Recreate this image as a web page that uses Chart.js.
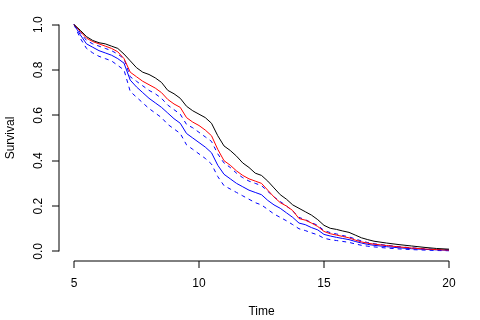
<!DOCTYPE html>
<html>
<head>
<meta charset="utf-8">
<script src="https://cdn.jsdelivr.net/npm/chart.js@4"></script>
<style>
  html, body { margin: 0; padding: 0; background: #fff; }
  canvas { display: block; }
</style>
</head>
<body>
<canvas id="chart-surv" width="480" height="320"></canvas>
<script>
// tiempos y curvas
const tiempos = [5, 5.25, 5.5, 5.75, 6, 6.25, 6.5, 6.75, 7, 7.25, 7.5, 7.75, 8, 8.25, 8.5, 8.75,
    9, 9.25, 9.5, 9.75, 10, 10.25, 10.5, 10.75, 11, 11.25, 11.5, 11.75, 12, 12.25, 12.5, 12.75,
    13, 13.25, 13.5, 13.75, 14, 14.25, 14.5, 14.75, 15, 15.25, 15.5, 15.75, 16, 16.25, 16.5, 16.75,
    17, 17.5, 18, 18.5, 19, 19.5, 20];

const survNegro = [1, 0.975, 0.947, 0.93, 0.92, 0.915, 0.905, 0.895, 0.87, 0.84, 0.81, 0.79, 0.78, 0.765, 0.745, 0.71,
    0.695, 0.675, 0.64, 0.62, 0.605, 0.59, 0.565, 0.51, 0.465, 0.445, 0.42, 0.39, 0.37, 0.345, 0.335, 0.31,
    0.28, 0.25, 0.23, 0.205, 0.19, 0.175, 0.16, 0.14, 0.115, 0.102, 0.097, 0.09, 0.084, 0.072, 0.06, 0.052,
    0.045, 0.037, 0.03, 0.024, 0.018, 0.013, 0.01];

const survRojo = [1, 0.97, 0.94, 0.925, 0.915, 0.905, 0.895, 0.88, 0.85, 0.79, 0.77, 0.75, 0.735, 0.72, 0.7, 0.67,
    0.65, 0.635, 0.59, 0.57, 0.555, 0.535, 0.51, 0.45, 0.4, 0.38, 0.355, 0.335, 0.32, 0.31, 0.3, 0.27,
    0.24, 0.215, 0.2, 0.18, 0.145, 0.138, 0.125, 0.11, 0.088, 0.078, 0.072, 0.066, 0.06, 0.05, 0.042, 0.036,
    0.032, 0.026, 0.02, 0.015, 0.011, 0.008, 0.006];

const survAzul = [1, 0.955, 0.915, 0.9, 0.885, 0.875, 0.865, 0.85, 0.83, 0.755, 0.725, 0.7, 0.675, 0.655, 0.635, 0.61,
    0.585, 0.565, 0.52, 0.5, 0.48, 0.46, 0.435, 0.38, 0.34, 0.32, 0.3, 0.285, 0.27, 0.26, 0.25, 0.225,
    0.205, 0.19, 0.17, 0.15, 0.125, 0.118, 0.105, 0.095, 0.075, 0.068, 0.062, 0.057, 0.052, 0.044, 0.037, 0.031,
    0.027, 0.021, 0.016, 0.012, 0.009, 0.007, 0.005];

const azulSup = [1, 0.965, 0.93, 0.915, 0.905, 0.895, 0.885, 0.87, 0.85, 0.77, 0.75, 0.73, 0.71, 0.695, 0.675, 0.645,
    0.625, 0.605, 0.56, 0.545, 0.525, 0.505, 0.485, 0.43, 0.39, 0.37, 0.345, 0.325, 0.31, 0.3, 0.29, 0.265,
    0.24, 0.22, 0.2, 0.178, 0.15, 0.14, 0.127, 0.115, 0.092, 0.083, 0.077, 0.07, 0.064, 0.055, 0.046, 0.039,
    0.034, 0.027, 0.021, 0.016, 0.012, 0.009, 0.007];

const azulInf = [1, 0.94, 0.895, 0.875, 0.86, 0.85, 0.84, 0.82, 0.8, 0.705, 0.68, 0.655, 0.63, 0.61, 0.59, 0.56,
    0.54, 0.52, 0.47, 0.45, 0.43, 0.41, 0.385, 0.33, 0.29, 0.275, 0.26, 0.245, 0.23, 0.215, 0.205, 0.185,
    0.165, 0.15, 0.135, 0.118, 0.1, 0.092, 0.082, 0.073, 0.058, 0.052, 0.048, 0.044, 0.04, 0.033, 0.027, 0.023,
    0.02, 0.015, 0.011, 0.008, 0.006, 0.004, 0.003];

const ticksX = [5, 10, 15, 20];
const ticksY = [0, 0.2, 0.4, 0.6, 0.8, 1];
const etiquetasY = ["0.0", "0.2", "0.4", "0.6", "0.8", "1.0"];

function serie(valores) {
    return tiempos.map((t, i) => ({ x: t, y: valores[i] }));
}

function linea(valores, color, dash) {
    return {
        data: serie(valores),
        borderColor: color,
        borderWidth: 1,
        borderDash: dash || [],
        pointRadius: 0,
        tension: 0,
        fill: false
    };
}

const FUENTE = '12px "Liberation Sans", Arial, sans-serif';

// ejes al estilo R (separados del area de dibujo)
const ejesR = {
    id: "ejesR",
    afterDraw(chart) {
        const ctx = chart.ctx;
        const sx = chart.scales.x, sy = chart.scales.y;
        const area = chart.chartArea;
        ctx.save();
        ctx.strokeStyle = "#000";
        ctx.lineWidth = 1;
        ctx.fillStyle = "#000";
        ctx.font = FUENTE;

        // eje x
        const yEje = Math.round(area.bottom);
        ctx.beginPath();
        ctx.moveTo(sx.getPixelForValue(ticksX[0]), yEje);
        ctx.lineTo(sx.getPixelForValue(ticksX[ticksX.length - 1]), yEje);
        ticksX.forEach(v => {
            const px = Math.round(sx.getPixelForValue(v));
            ctx.moveTo(px, yEje);
            ctx.lineTo(px, yEje + 7);
        });
        ctx.stroke();
        ctx.textAlign = "center";
        ctx.textBaseline = "middle";
        ticksX.forEach(v => {
            ctx.fillText(String(v), sx.getPixelForValue(v), yEje + 23);
        });
        ctx.fillText("Time", (area.left + area.right) / 2, yEje + 51);

        // eje y
        const xEje = Math.round(area.left);
        ctx.beginPath();
        ctx.moveTo(xEje, sy.getPixelForValue(ticksY[0]));
        ctx.lineTo(xEje, sy.getPixelForValue(ticksY[ticksY.length - 1]));
        ticksY.forEach(v => {
            const py = Math.round(sy.getPixelForValue(v));
            ctx.moveTo(xEje, py);
            ctx.lineTo(xEje - 7, py);
        });
        ctx.stroke();
        ticksY.forEach((v, i) => {
            ctx.save();
            ctx.translate(xEje - 20, sy.getPixelForValue(v));
            ctx.rotate(-Math.PI / 2);
            ctx.fillText(etiquetasY[i], 0, 0);
            ctx.restore();
        });
        ctx.save();
        ctx.translate(xEje - 48, (area.top + area.bottom) / 2);
        ctx.rotate(-Math.PI / 2);
        ctx.fillText("Survival", 0, 0);
        ctx.restore();

        ctx.restore();
    }
};

new Chart(document.getElementById("chart-surv"), {
    type: "line",
    data: {
        datasets: [
            linea(survNegro, "#000000"),
            linea(survRojo, "#FF0000"),
            linea(survAzul, "#0000FF"),
            linea(azulSup, "#0000FF", [4, 4]),
            linea(azulInf, "#0000FF", [4, 4])
        ]
    },
    options: {
        responsive: false,
        animation: false,
        layout: { padding: { left: 59, right: 16, top: 15.5, bottom: 59.5 } },
        plugins: { legend: { display: false }, tooltip: { enabled: false } },
        scales: {
            x: { type: "linear", min: 4.4, max: 20.6, display: false },
            y: { type: "linear", min: -0.04, max: 1.04, display: false }
        }
    },
    plugins: [ejesR]
});
</script>
</body>
</html>
